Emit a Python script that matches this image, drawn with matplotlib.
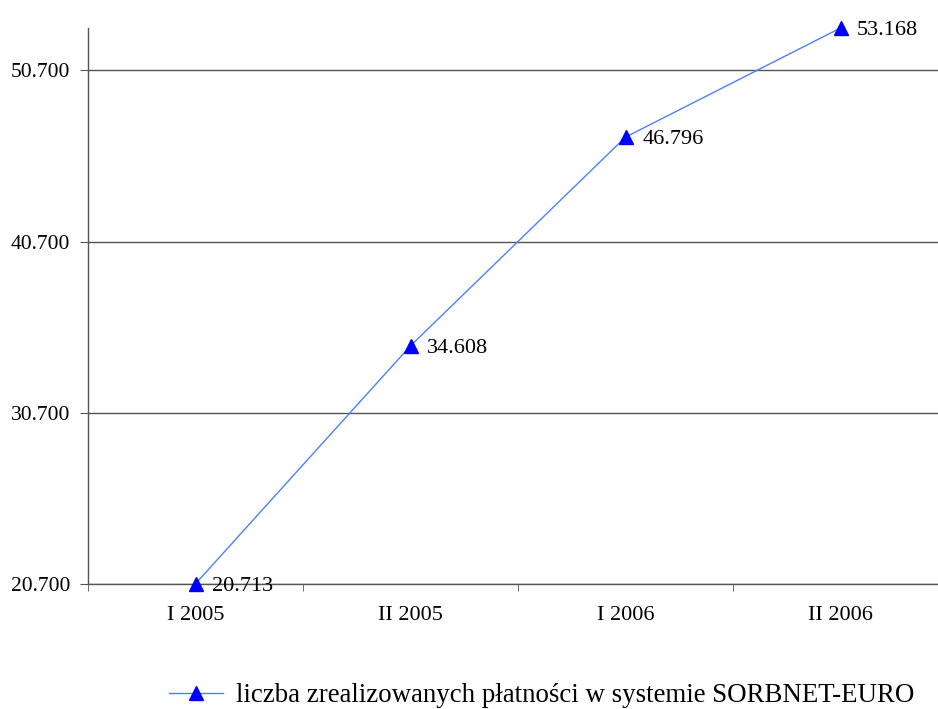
import matplotlib.pyplot as plt
from matplotlib.ticker import FuncFormatter, FixedLocator

categories = ['I 2005', 'II 2005', 'I 2006', 'II 2006']
payments = [20713, 34608, 46796, 53168]
y_ticks = [20700, 30700, 40700, 50700]
series_label = 'liczba zrealizowanych płatności w systemie SORBNET-EURO'


def fmt_pl(v, pos=None):
    # thousands separated by a dot, as in the original
    return f"{int(round(v)):,}".replace(',', '.')


plt.rcParams['font.family'] = ['Liberation Serif', 'DejaVu Serif']

fig = plt.figure(figsize=(9.38, 7.09), dpi=100)
ax = fig.add_axes([88 / 938, 1 - 584 / 709, 860 / 938, 556 / 709])

x = list(range(len(categories)))
line, = ax.plot(x, payments, color='#4f7fff', linewidth=1.0, marker='^',
                markersize=10, markerfacecolor='#0000ff', markeredgecolor='#0000ff',
                clip_on=False, zorder=3)

for xi, v in zip(x, payments):
    ax.annotate(fmt_pl(v), (xi, v), xytext=(12, -1.8), textcoords='offset points',
                ha='left', va='center', fontsize=16, zorder=4)

ax.set_xlim(-0.5, len(categories) - 0.5)
ax.set_ylim(20700, 53168)
ax.set_yticks(y_ticks)
ax.yaxis.set_major_formatter(FuncFormatter(fmt_pl))
ax.yaxis.grid(True, color='#555555', linewidth=1.0)
ax.set_axisbelow(True)

ax.set_xticks(x)
ax.set_xticklabels(categories)
ax.xaxis.set_minor_locator(FixedLocator([i - 0.5 for i in range(len(categories) + 1)]))
ax.tick_params(axis='x', which='major', length=0, pad=16, labelsize=16)
ax.tick_params(axis='x', which='minor', length=5, color='#555555', direction='out')
ax.tick_params(axis='y', length=6, color='#555555', labelsize=15.5, pad=7)

for s in ['top', 'right']:
    ax.spines[s].set_visible(False)
for s in ['left', 'bottom']:
    ax.spines[s].set_color('#555555')
    ax.spines[s].set_linewidth(1.0)

fig.legend([line], [series_label], loc='center', bbox_to_anchor=(542 / 938, 1 - 696 / 709),
           frameon=False, fontsize=19.4, handlelength=2.0, handletextpad=0.5)

fig.savefig('out.png', dpi=100)
